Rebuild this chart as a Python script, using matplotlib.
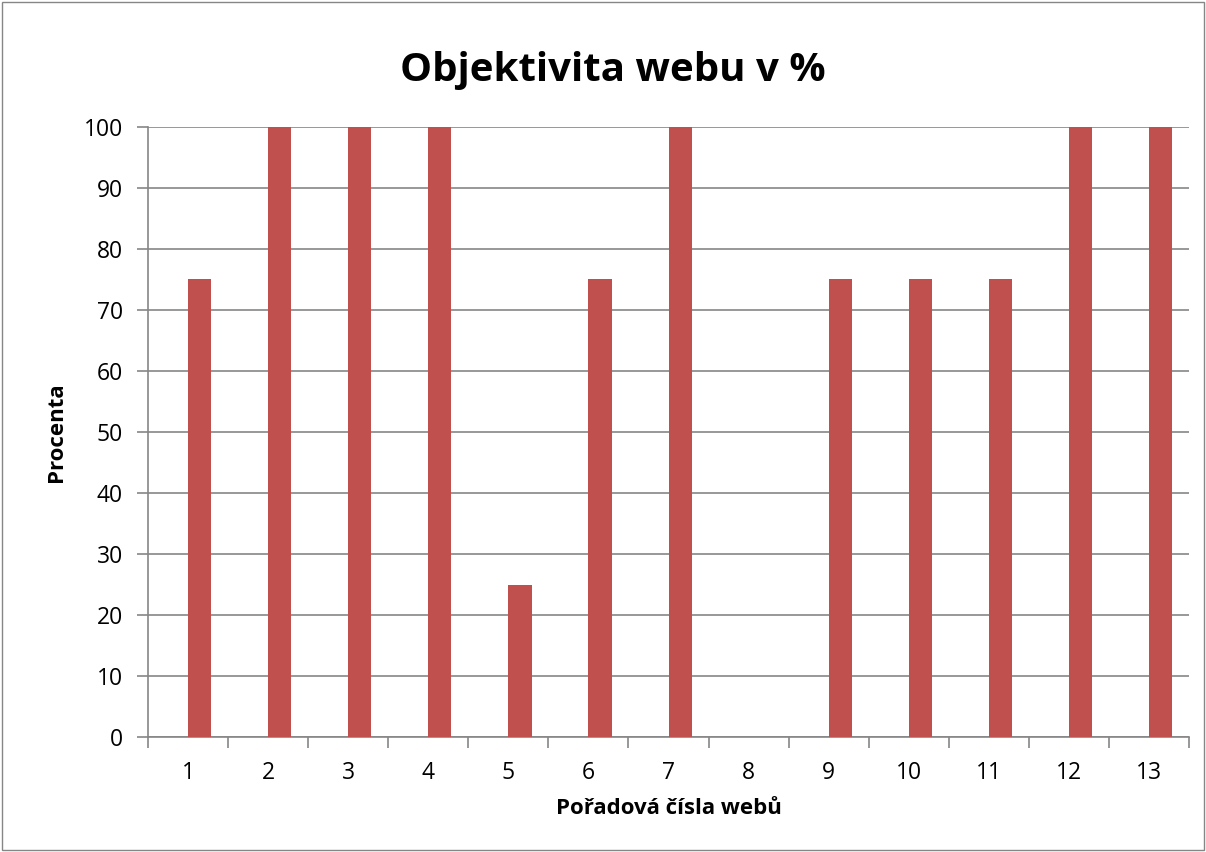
import matplotlib.pyplot as plt
from matplotlib.patches import Rectangle

plt.rcParams["font.family"] = ["Open Sans", "DejaVu Sans"]

weby = ["1", "2", "3", "4", "5", "6", "7", "8", "9", "10", "11", "12", "13"]
objektivita = [75, 100, 100, 100, 25, 75, 100, 0, 75, 75, 75, 100, 100]
y_ticks = [0, 10, 20, 30, 40, 50, 60, 70, 80, 90, 100]

fig = plt.figure(figsize=(12.06, 8.52), dpi=100)
ax = fig.add_axes([148 / 1206, 1 - 737 / 852, (1189 - 148) / 1206, (737 - 127) / 852])

x = list(range(len(weby)))
# Excel-style: bar starts at the category centre
ax.bar(x, objektivita, width=0.29, align="edge", color="#C0504D", zorder=3)

ax.set_xlim(-0.5, len(weby) - 0.5)
ax.set_ylim(0, 100)
ax.set_yticks(y_ticks)
ax.set_xticks(x)
ax.set_xticklabels(weby)
ax.set_xticks([i - 0.5 for i in range(len(weby) + 1)], minor=True)
ax.tick_params(axis="x", which="major", length=0, labelsize=16.5, pad=17)
ax.tick_params(axis="x", which="minor", length=8, width=1.2, color="#868686", direction="out")
ax.tick_params(axis="y", length=8, width=1.2, color="#868686", labelsize=16.5, pad=10)

ax.grid(axis="y", color="#868686", linewidth=1.2, zorder=0)
for side in ["top", "right"]:
    ax.spines[side].set_visible(False)
ax.spines["left"].set_color("#868686")
ax.spines["bottom"].set_color("#868686")
ax.spines["left"].set_linewidth(1.2)
ax.spines["bottom"].set_linewidth(1.2)

fig.text(613 / 1206, 1 - 70 / 852, "Objektivita webu v %", fontsize=29,
         fontweight="bold", ha="center", va="center")
ax.set_xlabel("Pořadová čísla webů", fontsize=16, fontweight="bold", labelpad=10)
ax.set_ylabel("Procenta", fontsize=16, fontweight="bold", labelpad=12)

# border around the chart area
fig.patches.append(Rectangle((0.0015, 0.002), 0.997, 0.996, transform=fig.transFigure,
                             fill=False, edgecolor="#868686", linewidth=1))

plt.savefig("out.png", dpi=100)
plt.close()
